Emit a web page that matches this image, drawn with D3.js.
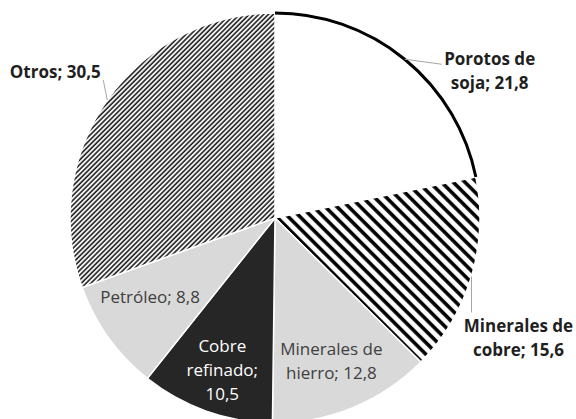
<!DOCTYPE html>
<html>
<head>
<meta charset="utf-8">
<script src="https://cdn.jsdelivr.net/npm/d3@7"></script>
<style>
  html, body { margin: 0; padding: 0; background: #fff; }
  svg text { font-family: "Open Sans", sans-serif; }
</style>
</head>
<body>
<div id="chart"></div>
<script>
// slice data, clockwise from 12 o'clock
const categories = ["Porotos de soja", "Minerales de cobre", "Minerales de hierro", "Cobre refinado", "Petróleo", "Otros"];
const values = [21.8, 15.6, 12.8, 10.5, 8.8, 30.5];
const labelLines = [
  ["Porotos de", "soja; 21,8"],
  ["Minerales de", "cobre; 15,6"],
  ["Minerales de", "hierro; 12,8"],
  ["Cobre", "refinado;", "10,5"],
  ["Petróleo; 8,8"],
  ["Otros; 30,5"]
];

const width = 576, height = 419;
const cx = 275, cy = 218, radius = 205;

const fills = ["#ffffff", "url(#thick)", "#d9d9d9", "#262626", "#d9d9d9", "url(#fine)"];
// label placement: inside labels sit on the mid angle, outside ones get a leader
const labelCfg = [
  { outside: true, leader: [37, 5], dx: 48, dy: 1, bold: true },
  { outside: true, leader: [0, 36], dx: 47, dy: 20, bold: true },
  { outside: false, k: 0.75, dx: -2, dy: -5, color: "#404040" },
  { outside: false, k: 0.78, dx: 1, dy: -17, color: "#ffffff" },
  { outside: false, k: 0.72, dx: -5, dy: -1, color: "#404040" },
  { outside: true, leader: [-4, -20], dx: -48, dy: -2, bold: true }
];

const svg = d3.select("#chart").append("svg")
  .attr("width", width).attr("height", height);

const defs = svg.append("defs");
defs.append("pattern").attr("id", "thick")
  .attr("patternUnits", "userSpaceOnUse")
  .attr("width", 8.3).attr("height", 8.3)
  .attr("patternTransform", "rotate(-45)")
  .call(p => {
    p.append("rect").attr("width", 8.3).attr("height", 8.3).attr("fill", "#fff");
    p.append("line").attr("x1", 2).attr("x2", 2).attr("y1", 0).attr("y2", 8.3)
      .attr("stroke", "#000").attr("stroke-width", 3.6);
  });
defs.append("pattern").attr("id", "fine")
  .attr("patternUnits", "userSpaceOnUse")
  .attr("width", 3.4).attr("height", 3.4)
  .attr("patternTransform", "rotate(45)")
  .call(p => {
    p.append("rect").attr("width", 3.4).attr("height", 3.4).attr("fill", "#fff");
    p.append("line").attr("x1", 1).attr("x2", 1).attr("y1", 0).attr("y2", 3.4)
      .attr("stroke", "#1a1a1a").attr("stroke-width", 1.6);
  });

const g = svg.append("g").attr("transform", "translate(" + cx + "," + cy + ")");

const pie = d3.pie().sort(null).value(d => d);
const arcs = pie(values);
const arc = d3.arc().innerRadius(0).outerRadius(radius);

g.selectAll("path.slice")
  .data(arcs)
  .enter()
  .append("path")
  .attr("class", "slice")
  .attr("d", arc)
  .attr("fill", (d, i) => fills[i])
  .attr("stroke", "#fff")
  .attr("stroke-width", 1.5);

// dark outer rim on the first slice
g.append("path")
  .attr("d", d3.arc().innerRadius(radius).outerRadius(radius)(arcs[0]))
  .attr("fill", "none")
  .attr("stroke", "#000")
  .attr("stroke-width", 3);

const midArc = k => d3.arc().innerRadius(radius * k).outerRadius(radius * k);

arcs.forEach((d, i) => {
  const cfg = labelCfg[i];
  let x, y;
  if (cfg.outside) {
    const p = midArc(1).centroid(d);
    const q = [p[0] + cfg.leader[0], p[1] + cfg.leader[1]];
    g.append("polyline")
      .attr("points", [p, q].map(v => v.join(",")).join(" "))
      .attr("fill", "none")
      .attr("stroke", "#a6a6a6")
      .attr("stroke-width", 1);
    x = q[0] + cfg.dx;
    y = q[1] + cfg.dy;
  } else {
    const p = midArc(cfg.k).centroid(d);
    x = p[0] + cfg.dx;
    y = p[1] + cfg.dy;
  }
  const lines = labelLines[i];
  const lh = 24;
  const t = g.append("text")
    .attr("x", x).attr("y", y)
    .attr("text-anchor", "middle")
    .attr("fill", cfg.color || "#1f1f1f")
    .style("font-size", "17px")
    .style("font-weight", cfg.bold ? 700 : 400);
  lines.forEach((s, j) => {
    t.append("tspan").attr("x", x).attr("dy", j === 0 ? 0 : lh).text(s);
  });
});
</script>
</body>
</html>
